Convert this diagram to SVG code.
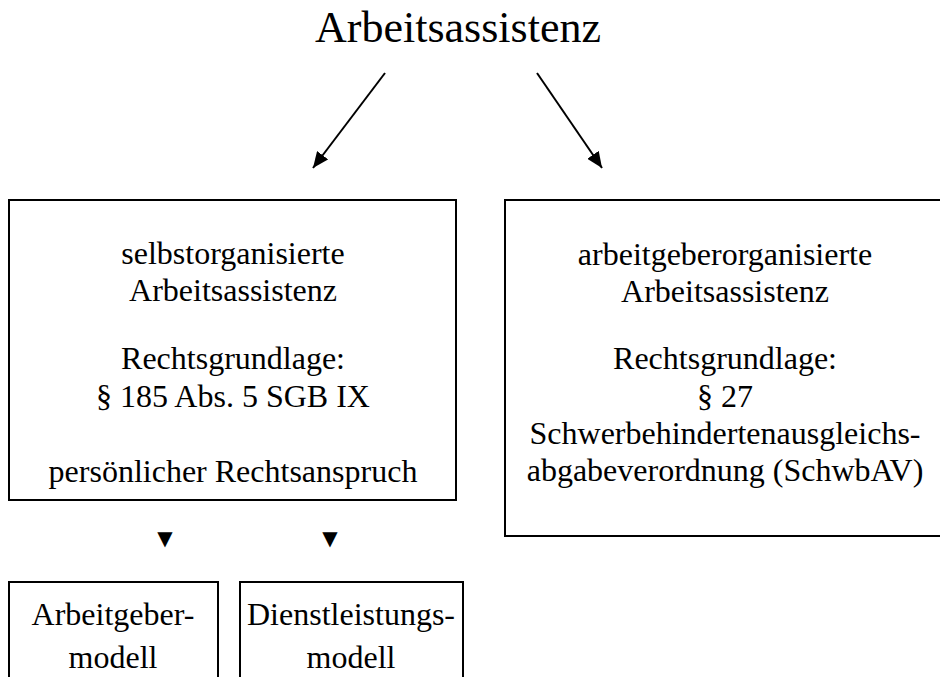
<svg xmlns="http://www.w3.org/2000/svg" width="940" height="677" viewBox="0 0 940 677">
<defs>
<marker id="ah" markerWidth="16" markerHeight="14" refX="16" refY="7" orient="auto" markerUnits="userSpaceOnUse" viewBox="0 0 16 14">
<path d="M0,0 L16,7 L0,14 z" fill="#000"/>
</marker>
<style>
text{font-family:"Liberation Serif","Times New Roman",serif;font-size:32px;fill:#000;text-anchor:middle}
.box{fill:#fff;stroke:#000;stroke-width:2}
.con{stroke:#000;stroke-width:2;fill:none}
.title{font-size:44px}
.tri{font-family:"DejaVu Sans",sans-serif;font-size:20px}
</style>
</defs>
<rect width="940" height="677" fill="#fff"/>
<g id="title"><text class="title" x="458" y="42">Arbeitsassistenz</text></g>
<g id="connectors">
<line class="con" x1="385" y1="73" x2="313" y2="168" marker-end="url(#ah)"/>
<line class="con" x1="537" y1="73" x2="602" y2="168" marker-end="url(#ah)"/>
</g>
<g id="selbst">
<rect class="box" x="9" y="200" width="447" height="300"/>
<text x="233" y="264">selbstorganisierte</text>
<text x="233" y="301">Arbeitsassistenz</text>
<text x="233" y="369">Rechtsgrundlage:</text>
<text x="233" y="407">§ 185 Abs. 5 SGB IX</text>
<text x="233" y="482">persönlicher Rechtsanspruch</text>
</g>
<g id="arbeitgeber">
<rect class="box" x="505" y="200" width="440" height="336"/>
<text x="725" y="265">arbeitgeberorganisierte</text>
<text x="725" y="302">Arbeitsassistenz</text>
<text x="725" y="369">Rechtsgrundlage:</text>
<text x="725" y="407">§ 27</text>
<text x="725" y="444">Schwerbehindertenausgleichs-</text>
<text x="725" y="481">abgabeverordnung (SchwbAV)</text>
</g>
<g id="markers">
<text class="tri" x="165" y="545">▼</text>
<text class="tri" x="330" y="545">▼</text>
</g>
<g id="agmodell">
<rect class="box" x="9" y="582" width="209" height="110"/>
<text x="113" y="625">Arbeitgeber-</text>
<text x="113" y="668">modell</text>
</g>
<g id="dlmodell">
<rect class="box" x="240" y="582" width="223" height="110"/>
<text x="351" y="625">Dienstleistungs-</text>
<text x="351" y="668">modell</text>
</g>
</svg>
